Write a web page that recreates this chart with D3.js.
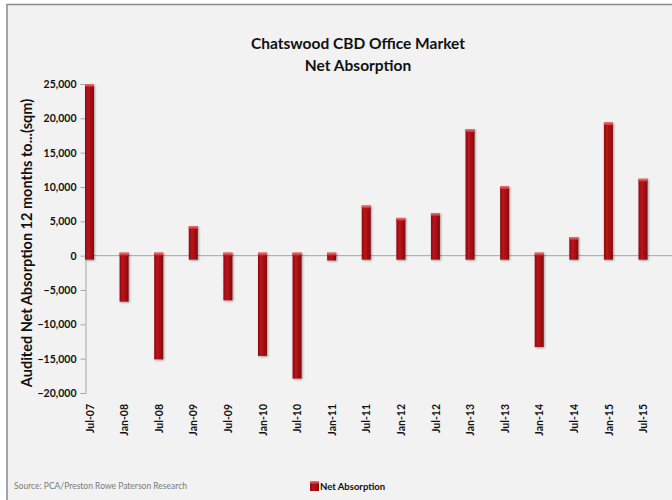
<!DOCTYPE html>
<html>
<head>
<meta charset="utf-8">
<script src="https://cdn.jsdelivr.net/npm/d3@7"></script>
<style>
  html, body { margin: 0; padding: 0; background: #ffffff; }
  svg { display: block; }
  text { font-family: Lato, "Open Sans", sans-serif; }
</style>
</head>
<body>
<svg id="chart" width="672" height="500"></svg>
<script>
// Half-yearly net absorption, Chatswood CBD office market (sqm)
const periods = ["Jul-07", "Jan-08", "Jul-08", "Jan-09", "Jul-09", "Jan-10", "Jul-10", "Jan-11",
                 "Jul-11", "Jan-12", "Jul-12", "Jan-13", "Jul-13", "Jan-14", "Jul-14", "Jan-15", "Jul-15"];
const netAbsorption = [25000, -6700, -15100, 4300, -6500, -14600, -17900, -700,
                       7300, 5500, 6200, 18400, 10100, -13300, 2700, 19400, 11200];
const yTicks = [-20000, -15000, -10000, -5000, 0, 5000, 10000, 15000, 20000, 25000];
const titleLines = ["Chatswood CBD Office Market", "Net Absorption"];
const yAxisTitle = "Audited Net Absorption 12 months to...(sqm)";
const seriesName = "Net Absorption";
const sourceNote = "Source: PCA/Preston Rowe Paterson Research";

const svg = d3.select("#chart");
const defs = svg.append("defs");

// bar body: dark red with a soft highlight across the width
const body = defs.append("linearGradient").attr("id", "barBody")
  .attr("x1", "0").attr("x2", "1").attr("y1", "0").attr("y2", "0");
body.append("stop").attr("offset", "0").attr("stop-color", "#900a0e");
body.append("stop").attr("offset", "0.35").attr("stop-color", "#b8141b");
body.append("stop").attr("offset", "0.7").attr("stop-color", "#a50d12");
body.append("stop").attr("offset", "1").attr("stop-color", "#7c080b");

const cap = defs.append("linearGradient").attr("id", "barCap")
  .attr("x1", "0").attr("x2", "0").attr("y1", "0").attr("y2", "1");
cap.append("stop").attr("offset", "0").attr("stop-color", "#f07a80");
cap.append("stop").attr("offset", "1").attr("stop-color", "#c41a22");

defs.append("filter").attr("id", "barShadow")
  .attr("x", "-50%").attr("y", "-10%").attr("width", "200%").attr("height", "130%")
  .append("feDropShadow").attr("dx", 1).attr("dy", 1).attr("stdDeviation", 0.8)
  .attr("flood-color", "#000").attr("flood-opacity", 0.35);

// chart area frame
svg.append("rect")
  .attr("x", 7).attr("y", 4.5).attr("width", 680).attr("height", 510)
  .attr("fill", "#f2f2f2").attr("stroke", "#8a8a8a").attr("stroke-width", 1.5);

const x = d3.scalePoint().domain(periods).range([89.5, 643]);
const y = d3.scaleLinear().domain([-20000, 25000]).range([393, 84]);
const barW = 9;
const axisX = 85.5;

// title
svg.append("g").selectAll("text").data(titleLines).join("text")
  .attr("x", 358).attr("y", (d, i) => 49 + i * 22)
  .attr("text-anchor", "middle")
  .attr("font-size", 15.5).attr("font-weight", 700).attr("fill", "#111")
  .text(d => d);

// y axis
const yAxis = svg.append("g").attr("transform", `translate(${axisX},0)`)
  .call(d3.axisLeft(y).tickValues(yTicks).tickSize(5).tickPadding(4)
    .tickFormat(d3.format(",")));
yAxis.select(".domain").attr("stroke", "#a6a6a6");
yAxis.selectAll(".tick line").attr("stroke", "#a6a6a6");
yAxis.selectAll(".tick text")
  .attr("font-family", "Lato, sans-serif").attr("font-size", 10.5).attr("font-weight", 700).attr("fill", "#111");

svg.append("text")
  .attr("transform", `translate(32,243) rotate(-90)`)
  .attr("text-anchor", "middle")
  .attr("font-size", 14.5).attr("font-weight", 700).attr("fill", "#111")
  .text(yAxisTitle);

// zero line
svg.append("line")
  .attr("x1", axisX).attr("x2", 672).attr("y1", y(0)).attr("y2", y(0))
  .attr("stroke", "#a6a6a6").attr("stroke-width", 1);

// bars, with a small bevel past the zero line
const bevel = 3;
const bars = svg.append("g").selectAll("g").data(periods.map((p, i) => ({ p, v: netAbsorption[i] })))
  .join("g").attr("filter", "url(#barShadow)");
bars.append("rect")
  .attr("x", d => x(d.p) - barW / 2)
  .attr("y", d => d.v >= 0 ? y(d.v) : y(0) - bevel)
  .attr("width", barW)
  .attr("height", d => d.v >= 0 ? y(0) - y(d.v) + bevel + 1 : y(d.v) - y(0) + bevel)
  .attr("fill", "url(#barBody)");
bars.append("rect")
  .attr("x", d => x(d.p) - barW / 2)
  .attr("y", d => d.v >= 0 ? y(d.v) : y(0) - bevel)
  .attr("width", barW).attr("height", 3)
  .attr("fill", "url(#barCap)");

// category labels
svg.append("g").selectAll("text").data(periods).join("text")
  .attr("transform", d => `translate(${x(d) + 0.5},404) rotate(-90)`)
  .attr("text-anchor", "end").attr("dy", "0.35em")
  .attr("font-size", 10.5).attr("font-weight", 700).attr("fill", "#111")
  .text(d => d);

// legend
svg.append("rect").attr("x", 310).attr("y", 481).attr("width", 9).attr("height", 10)
  .attr("fill", "url(#barBody)");
svg.append("rect").attr("x", 310).attr("y", 481).attr("width", 9).attr("height", 3)
  .attr("fill", "url(#barCap)");
svg.append("text").attr("x", 320).attr("y", 489.5)
  .attr("font-size", 9.5).attr("font-weight", 700).attr("fill", "#111")
  .text(seriesName);

// source note
svg.append("text").attr("x", 14).attr("y", 489)
  .attr("font-size", 8.5).attr("fill", "#7a7a7a")
  .text(sourceNote);
</script>
</body>
</html>
